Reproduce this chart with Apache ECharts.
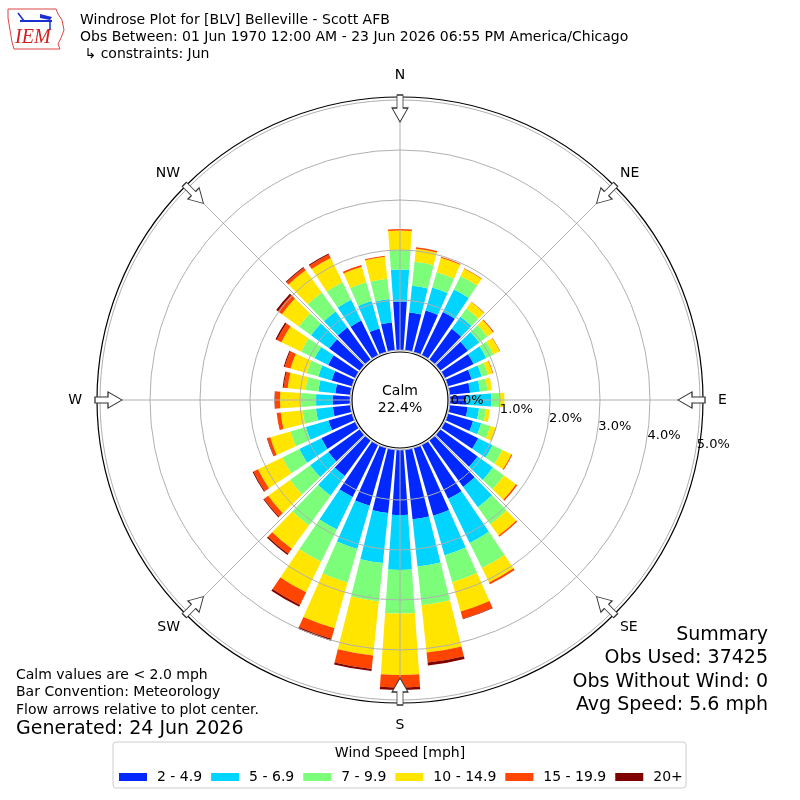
<!DOCTYPE html>
<html><head><meta charset="utf-8">
<script src="https://cdn.jsdelivr.net/npm/echarts/dist/echarts.min.js"></script>
<style>html,body{margin:0;padding:0;background:#fff}#c{width:800px;height:800px}</style>
</head><body><div id="c"></div>
<script>
// ---- data ----
const directions = ['0','10','20','30','40','50','60','70','80','90','100','110','120','130','140','150','160','170',
                    '180','190','200','210','220','230','240','250','260','270','280','290','300','310','320','330','340','350'];
const speedBins = ['2 - 4.9','5 - 6.9','7 - 9.9','10 - 14.9','15 - 19.9','20+'];
const s2to4_9 = [0.97,0.76,0.86,0.96,0.76,0.68,0.64,0.49,0.41,0.33,0.36,0.52,0.74,0.92,1.15,1.20,1.41,1.40,
                 1.30,1.27,1.20,1.16,0.88,0.77,0.75,0.49,0.35,0.35,0.30,0.42,0.60,0.75,0.79,0.77,0.49,0.56];
const s5to6_9 = [0.64,0.54,0.48,0.50,0.30,0.28,0.28,0.21,0.20,0.50,0.23,0.17,0.32,0.38,0.50,0.98,0.82,0.95,
                 1.10,1.01,0.90,0.72,0.48,0.45,0.49,0.47,0.34,0.33,0.34,0.28,0.30,0.45,0.40,0.46,0.57,0.47];
const s7to9_9 = [0.39,0.48,0.32,0.30,0.20,0.20,0.16,0.13,0.15,0.17,0.14,0.19,0.22,0.27,0.42,0.56,0.56,0.78,
                 0.87,0.77,0.70,0.72,0.74,0.50,0.38,0.32,0.27,0.30,0.26,0.24,0.30,0.30,0.47,0.39,0.39,0.41];
const s10to14_9 = [0.39,0.26,0.30,0.16,0.16,0.14,0.14,0.10,0.09,0.09,0.08,0.11,0.20,0.30,0.28,0.32,0.61,0.95,
                   1.23,1.09,0.95,0.68,0.58,0.54,0.54,0.42,0.44,0.42,0.36,0.34,0.44,0.42,0.55,0.54,0.32,0.44];
const s15to19_9 = [0.03,0.03,0.02,0.01,0.01,0.02,0.01,0.01,0.00,0.00,0.00,0.01,0.02,0.03,0.03,0.04,0.15,0.20,
                   0.25,0.27,0.22,0.28,0.12,0.10,0.10,0.06,0.08,0.10,0.08,0.12,0.10,0.10,0.06,0.08,0.04,0.02];
const s20plus = [0,0,0,0,0,0,0,0,0,0,0,0,0,0,0,0,0.01,0.06,
                 0.05,0.04,0.04,0.04,0.03,0.02,0.02,0.01,0,0.01,0.02,0.02,0.03,0.04,0.02,0.02,0,0];
const binColors = ['#0028ff','#00d4ff','#7cfe7b','#ffe500','#ff4500','#800000'];
const compassNames = ['N','NE','E','SE','S','SW','W','NW'];
const compassAngles = [0,45,90,135,180,225,270,315];
const radialMax = 5;
const calmPct = '22.4%';
const summaryLines = ['Summary','Obs Used: 37425','Obs Without Wind: 0','Avg Speed: 5.6 mph'];
const noteLines = ['Calm values are < 2.0 mph','Bar Convention: Meteorology','Flow arrows relative to plot center.'];
const generated = 'Generated: 24 Jun 2026';
const titleLines = ['Windrose Plot for [BLV] Belleville - Scott AFB',
                    'Obs Between: 01 Jun 1970 12:00 AM - 23 Jun 2026 06:55 PM America/Chicago',
                    ' \u21B3 constraints: Jun'];
const legendTitle = 'Wind Speed [mph]';
const arrowRadius = 4.83;

// ---- layout ----
const CX = 400, CY = 400, R_IN = 50, R_OUT = 300;
const FONT = '"DejaVu Sans", sans-serif';
const seriesValues = [s2to4_9, s5to6_9, s7to9_9, s10to14_9, s15to19_9, s20plus];

const chart = echarts.init(document.getElementById('c'), null, {renderer: 'canvas'});

function txt(text, x, y, size, align, extra) {
  return Object.assign({type: 'text', z: 100, style: {text, x, y, fontSize: size, fontFamily: FONT, fill: '#000',
    textAlign: align, align: align, textVerticalAlign: 'middle', verticalAlign: 'middle'}}, extra || {});
}

const graphics = [];
// logo
graphics.push({type: 'polygon', z: 100, shape: {points: [[8,9],[56,9],[58,14],[62,20],[64,30],[61,38],[58,44],[60,49],[14,49],[12,42],[10,30],[8,18]]},
  style: {fill: 'none', stroke: '#d44', lineWidth: 1}});
graphics.push({type: 'line', z: 100, shape: {x1: 20, y1: 21, x2: 52, y2: 21}, style: {stroke: '#1a2fd0', lineWidth: 2}});
graphics.push({type: 'line', z: 100, shape: {x1: 18, y1: 13, x2: 24, y2: 21}, style: {stroke: '#1a2fd0', lineWidth: 1.5}});
graphics.push({type: 'polygon', z: 100, shape: {points: [[40,14],[52,17],[50,20],[40,18]]}, style: {fill: '#1a2fd0'}});
graphics.push({type: 'line', z: 100, shape: {x1: 50, y1: 21, x2: 50, y2: 30}, style: {stroke: '#1a2fd0', lineWidth: 1.5}});
graphics.push({type: 'text', z: 100, style: {text: 'IEM', x: 15, y: 38, fontSize: 20, fontStyle: 'italic', fontFamily: '"Liberation Serif", serif',
  fill: '#d02020', textVerticalAlign: 'middle', verticalAlign: 'middle'}});
// header
titleLines.forEach((t, i) => graphics.push(txt(t, 80, 20 + i * 17, 14, 'left')));
// calm circle
graphics.push({type: 'circle', z: 50, shape: {cx: CX, cy: CY, r: R_IN - 2}, style: {fill: '#fff', stroke: '#000', lineWidth: 1.2}});
graphics.push(txt('Calm', CX, CY - 9, 14, 'center', {z: 55}));
graphics.push(txt(calmPct, CX, CY + 8, 14, 'center', {z: 55}));
// notes
noteLines.forEach((t, i) => graphics.push(txt(t, 16, 675 + i * 17.5, 14, 'left')));
graphics.push(txt(generated, 16, 729, 19, 'left'));
// summary
summaryLines.forEach((t, i) => graphics.push(txt(t, 768, 635 + i * 23.5, 19, 'right')));
// legend box + title
graphics.push({type: 'rect', z: 90, shape: {x: 113, y: 742, width: 573, height: 46, r: 3}, style: {fill: '#fff', stroke: '#cccccc', lineWidth: 1}});
graphics.push(txt(legendTitle, 400, 753, 14, 'center'));

const arrowPath = 'path://M-3,13 L-3,0 L-8,0 L0,-14 L8,0 L3,0 L3,13 Z';
const hiddenAxis = {axisLine: {show: false}, axisTick: {show: false}, axisLabel: {show: false}, splitLine: {show: false}};

const option = {
  animation: false,
  backgroundColor: '#fff',
  textStyle: {fontFamily: FONT},
  polar: [
    {center: [CX, CY], radius: [R_IN, R_OUT]},
    {center: [CX, CY], radius: [R_IN, R_OUT]},
    {center: [CX, CY], radius: [R_IN, R_OUT]},
    {center: [CX, CY], radius: [0, R_OUT + 3]},
    {center: [CX, CY], radius: [R_IN, R_OUT]}
  ],
  angleAxis: [
    Object.assign({polarIndex: 0, type: 'category', data: directions, startAngle: 95, clockwise: true, boundaryGap: true}, hiddenAxis),
    {polarIndex: 1, type: 'value', min: 0, max: 360, interval: 45, startAngle: 90, clockwise: true, z: 10,
      axisLine: {show: false}, axisTick: {show: false},
      axisLabel: {margin: 18, fontSize: 14, color: '#000', fontFamily: FONT,
        formatter: v => (Math.round(v / 45) % 2 === 0 ? compassNames[Math.round(v / 45) % 8] : '')},
      splitLine: {show: true, lineStyle: {color: '#b0b0b0', width: 1}}},
    Object.assign({polarIndex: 2, type: 'value', min: 0, max: 360, startAngle: -10, clockwise: true}, hiddenAxis),
    {polarIndex: 3, type: 'value', min: 0, max: 360, startAngle: 90, z: 9,
      axisLine: {show: true, lineStyle: {color: '#000', width: 1.2}}, axisTick: {show: false}, axisLabel: {show: false}, splitLine: {show: false}},
    {polarIndex: 4, type: 'value', min: 0, max: 360, interval: 90, startAngle: 45, clockwise: true, z: 10,
      axisLine: {show: false}, axisTick: {show: false}, splitLine: {show: false},
      axisLabel: {margin: 11, fontSize: 14, color: '#000', fontFamily: FONT,
        formatter: v => compassNames[(Math.round(v / 90) % 4) * 2 + 1]}}
  ],
  radiusAxis: [
    Object.assign({polarIndex: 0, type: 'value', min: 0, max: radialMax}, hiddenAxis),
    {polarIndex: 1, type: 'value', min: 0, max: radialMax, interval: 1, z: 10,
      axisLine: {show: false}, axisTick: {show: false}, axisLabel: {show: false},
      splitLine: {show: true, lineStyle: {color: '#b0b0b0', width: 1}}},
    {polarIndex: 2, type: 'value', min: 0, max: radialMax, interval: 1, z: 60,
      axisLine: {show: false}, axisTick: {show: false}, splitLine: {show: false},
      axisLabel: {show: true, fontSize: 13, color: '#000', fontFamily: FONT, margin: 8, align: 'left', verticalAlign: 'middle',
        formatter: v => v.toFixed(1) + '%'}},
    Object.assign({polarIndex: 3, type: 'value', min: 0, max: 1}, hiddenAxis),
    Object.assign({polarIndex: 4, type: 'value', min: 0, max: 1}, hiddenAxis)
  ],
  legend: {
    data: speedBins, left: 119, top: 770, orient: 'horizontal', icon: 'rect', itemWidth: 28, itemHeight: 8, itemGap: 9,
    padding: 0, selectedMode: false, z: 95,
    textStyle: {fontSize: 14, color: '#000', fontFamily: FONT, padding: [0, 0, 0, 5]}
  },
  graphic: graphics,
  series: speedBins.map((name, i) => ({
    type: 'bar', name, coordinateSystem: 'polar', polarIndex: 0, stack: 'wind',
    data: seriesValues[i], barCategoryGap: '20%', itemStyle: {color: binColors[i]}, z: 2
  })).concat([{
    type: 'scatter', name: 'flow', coordinateSystem: 'polar', polarIndex: 1, z: 20,
    symbol: arrowPath, symbolSize: [16, 27], symbolKeepAspect: false,
    itemStyle: {color: '#fff', borderColor: '#333', borderWidth: 1, opacity: 1},
    data: compassAngles.map(a => ({value: [arrowRadius, a], symbolRotate: 180 - a}))
  }])
};
chart.setOption(option);
</script>
</body></html>
